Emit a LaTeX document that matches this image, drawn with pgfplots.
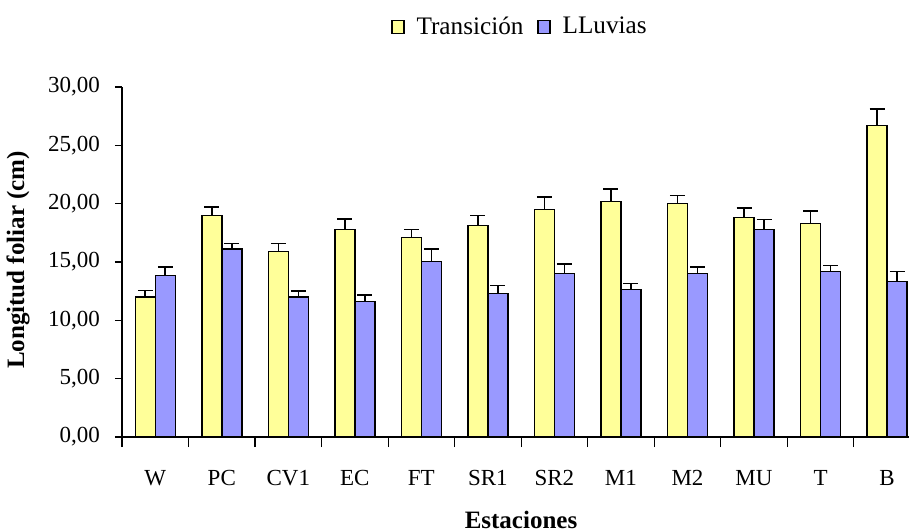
\documentclass[border=0pt]{standalone}
\usepackage{fontspec}
\setmainfont{Liberation Serif}
\usepackage{pgfplots}
\pgfplotsset{compat=1.18}

\definecolor{transyellow}{HTML}{FFFF99}
\definecolor{lluvblue}{HTML}{9999FF}

\begin{document}
\begin{tikzpicture}[font=\fontsize{11.5}{13}\selectfont]
% page size: 909 x 531 px at 0.5pt per px, axis origin at (122px, 437px)
\path[use as bounding box] (-61pt,-47pt) rectangle (393.5pt,218.5pt);
\begin{axis}[
    at={(0pt,0pt)}, anchor=south west,
    scale only axis,
    width=393.5pt, height=175pt,
    ybar=0pt,
    bar width=10pt,
    xmin=-0.5, xmax=11.33,
    ymin=0, ymax=30,
    enlargelimits=false,
    axis x line*=bottom,
    axis y line*=left,
    axis line style={black, line width=0.6pt},
    tick align=outside,
    xtick={0,...,11},
    xticklabels={W,PC,CV1,EC,FT,SR1,SR2,M1,M2,MU,T,B},
    minor xtick={-0.5,0.5,...,11.5},
    major x tick style={draw=none},
    minor tick length=5pt,
    major tick length=3.5pt,
    tick style={black, line width=0.6pt},
    ytick={0,5,...,30},
    /pgf/number format/fixed,
    /pgf/number format/fixed zerofill,
    /pgf/number format/precision=2,
    /pgf/number format/use comma,
    /pgf/number format/assume math mode=true,
    yticklabel style={xshift=-4pt},
    xticklabel style={yshift=-9.5pt},
    xlabel={\textbf{Estaciones}},
    ylabel={\textbf{Longitud foliar (cm)}},
    label style={font=\fontsize{12.5}{14}\selectfont},
    xlabel style={at={(axis description cs:0.507,0)}, anchor=center, yshift=-41.5pt},
    ylabel style={at={(axis description cs:0,0.506)}, anchor=center, yshift=52pt},
    legend columns=2,
    legend style={at={(0.507,1.171)}, anchor=center, draw=none, fill=none,
        font=\fontsize{12.6}{14}\selectfont,
        /tikz/every odd column/.append style={column sep=4pt},
        /tikz/every even column/.append style={column sep=5pt}},
    legend image code/.code={\draw[#1, line width=0.6pt] (0pt,-3.25pt) rectangle (6pt,3.25pt);},
    error bars/y dir=plus,
    error bars/y explicit,
    error bars/error mark options={rotate=90, mark size=3.75pt, line width=0.8pt, black},
    error bars/error bar style={line width=0.8pt, black},
]
% Transicion
\addplot[draw=black, line width=0.75pt, fill=transyellow] coordinates {
    (0,12.00) +- (0,0.55)
    (1,19.00) +- (0,0.70)
    (2,15.90) +- (0,0.70)
    (3,17.80) +- (0,0.90)
    (4,17.10) +- (0,0.70)
    (5,18.15) +- (0,0.85)
    (6,19.50) +- (0,1.05)
    (7,20.20) +- (0,1.05)
    (8,20.00) +- (0,0.70)
    (9,18.80) +- (0,0.85)
    (10,18.30) +- (0,1.05)
    (11,26.70) +- (0,1.40)
};
% LLuvias
\addplot[draw=black, line width=0.75pt, fill=lluvblue] coordinates {
    (0,13.85) +- (0,0.70)
    (1,16.10) +- (0,0.50)
    (2,12.00) +- (0,0.50)
    (3,11.60) +- (0,0.55)
    (4,15.05) +- (0,1.05)
    (5,12.30) +- (0,0.70)
    (6,14.00) +- (0,0.85)
    (7,12.65) +- (0,0.50)
    (8,14.00) +- (0,0.55)
    (9,17.80) +- (0,0.85)
    (10,14.20) +- (0,0.50)
    (11,13.35) +- (0,0.85)
};
\legend{Transición, LLuvias}
\end{axis}
\end{tikzpicture}
\end{document}
